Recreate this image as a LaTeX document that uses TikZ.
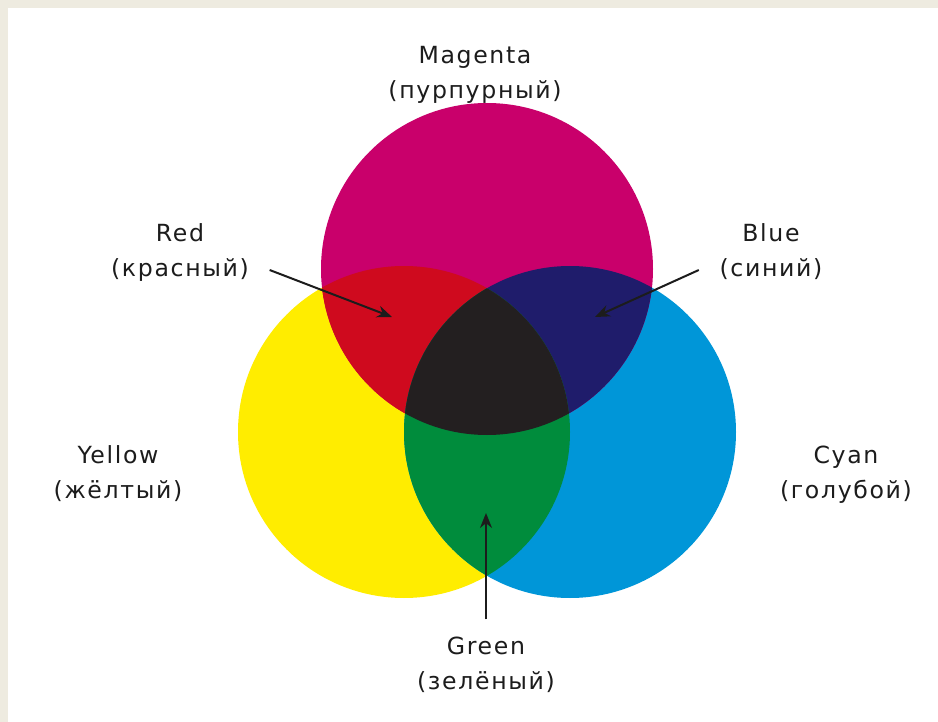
\documentclass[tikz,border=0pt]{standalone}
\usepackage{fontspec}
\setmainfont{DejaVu Sans}[LetterSpace=7]
\usetikzlibrary{arrows.meta}
\definecolor{frame}{HTML}{EEEBE0}
\definecolor{ink}{HTML}{1C1C1C}
\definecolor{cmagenta}{HTML}{C9006B}
\definecolor{cyellow}{HTML}{FFED00}
\definecolor{ccyan}{HTML}{0096D8}
\definecolor{cred}{HTML}{CF0A1E}
\definecolor{cblue}{HTML}{1F1C6B}
\definecolor{cgreen}{HTML}{008C3C}
\definecolor{cblack}{HTML}{231F20}
\begin{document}
\begin{tikzpicture}[x=0.5pt,y=-0.5pt,line join=round,>={Stealth[length=7.5pt,width=6pt]},thick]
	\tikzset{lbl/.style={align=center,text=ink,inner sep=0pt,font=\fontsize{11.8}{17.5}\selectfont},
		arr/.style={->,draw=ink,line width=1pt}}
	\useasboundingbox[fill=frame] (0,0) rectangle (938,722);
	\fill[white] (8,8) rectangle (938,722);
	% circles
	\fill[cyellow] (404,432) circle[radius=83pt];
	\fill[ccyan] (570,432) circle[radius=83pt];
	\fill[cmagenta] (487,269) circle[radius=83pt];
	\begin{scope}
		\clip (487,269) circle[radius=83pt];
		\fill[cred] (404,432) circle[radius=83pt];
		\fill[cblue] (570,432) circle[radius=83pt];
	\end{scope}
	\begin{scope}
		\clip (404,432) circle[radius=83pt];
		\fill[cgreen] (570,432) circle[radius=83pt];
		\clip (570,432) circle[radius=83pt];
		\fill[cblack] (487,269) circle[radius=83pt];
	\end{scope}
	% labels
	\node[lbl] (magentalbl) at (475,75) {Magenta\\(пурпурный)};
	\node[lbl] (redlbl) at (180,252) {Red\\(красный)};
	\node[lbl] (bluelbl) at (771,252) {Blue\\(синий)};
	\node[lbl] (yellowlbl) at (118,474) {Yellow\\(жёлтый)};
	\node[lbl] (cyanlbl) at (846,475) {Cyan\\(голубой)};
	\node[lbl] (greenlbl) at (486,665) {Green\\(зелёный)};
	% arrows
	\coordinate (redpt) at (392,317);
	\coordinate (bluept) at (595,317);
	\coordinate (greenpt) at (486,513);
	\draw[arr] ([shift={(20,18)}]redlbl.east) -- (redpt);
	\draw[arr] ([shift={(-20,18)}]bluelbl.west) -- (bluept);
	\draw[arr] ([shift={(0,-17)}]greenlbl.north) -- (greenpt);
\end{tikzpicture}
\end{document}
